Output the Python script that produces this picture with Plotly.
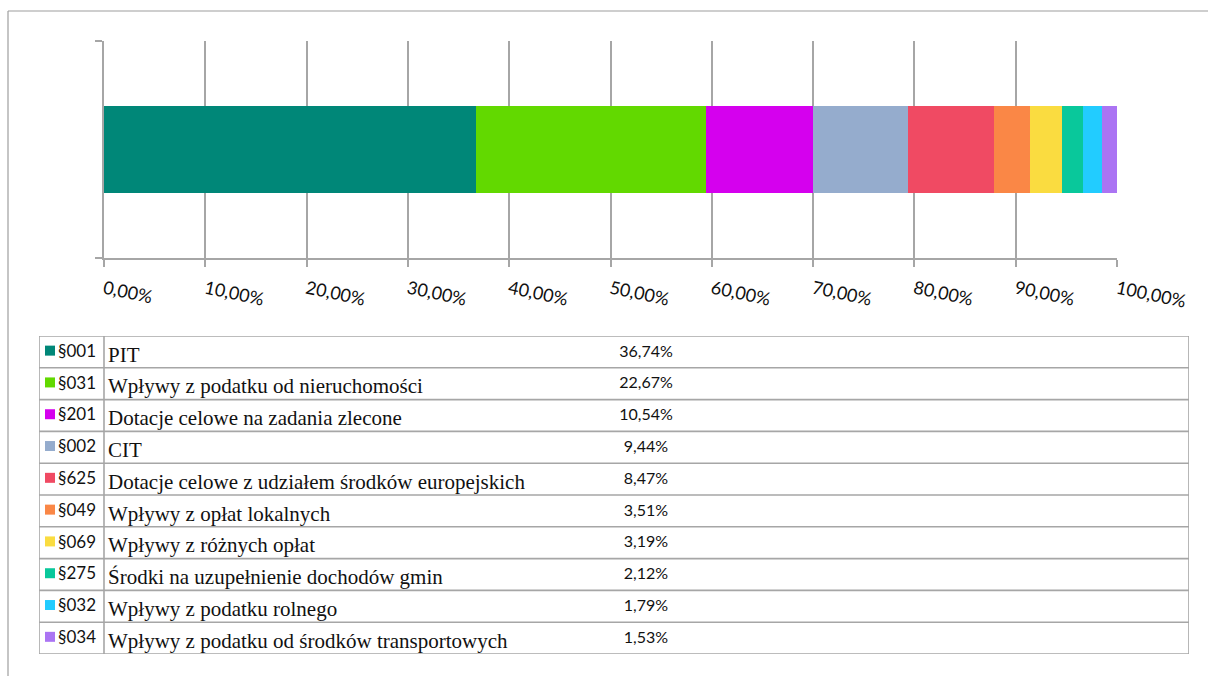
import plotly.graph_objects as go

# ---------------- data ----------------
codes = ["§001", "§031", "§201", "§002", "§625", "§049", "§069", "§275", "§032", "§034"]
names = [
    "PIT",
    "Wpływy z podatku od nieruchomości",
    "Dotacje celowe na zadania zlecone",
    "CIT",
    "Dotacje celowe z udziałem środków europejskich",
    "Wpływy z opłat lokalnych",
    "Wpływy z różnych opłat",
    "Środki na uzupełnienie dochodów gmin",
    "Wpływy z podatku rolnego",
    "Wpływy z podatku od środków transportowych",
]
shares = [36.74, 22.67, 10.54, 9.44, 8.47, 3.51, 3.19, 2.12, 1.79, 1.53]
colors = ["#008778", "#62D900", "#D500EE", "#95ACCD", "#F04A63",
          "#FA8746", "#FADC40", "#09C89B", "#22CCFF", "#AB74F3"]
tick_values = [0, 0.1, 0.2, 0.3, 0.4, 0.5, 0.6, 0.7, 0.8, 0.9, 1.0]

# ---------------- layout helpers ----------------
W, H = 1208, 676
def px(x):
    return x / W
def py(y):
    return 1 - y / H

GRID = "#A6A6A6"
SANS = "Lato, 'Open Sans', sans-serif"
SERIF = "'Liberation Serif', 'Times New Roman', serif"

fig = go.Figure()

# stacked bar
for c, n, s, col in zip(codes, names, shares, colors):
    fig.add_trace(go.Bar(
        x=[s / 100], y=[0], orientation="h", width=0.405,
        marker=dict(color=col, line=dict(width=0)),
        name=c, showlegend=False, hoverinfo="skip",
        xaxis="x", yaxis="y",
    ))

# ---------------- data table (second axis pair) ----------------
TABLE_W = 1150
KEY_X = 11
CODE_X = 19
DIV_X = 65
DESC_X = 69
PCT_X = 607
rows = list(range(len(codes)))
row_mid = [r + 0.5 for r in rows]

fig.add_trace(go.Scatter(
    x=[KEY_X] * len(codes), y=[m - 0.04 for m in row_mid], mode="markers",
    marker=dict(symbol="square", size=10, color=colors, line=dict(width=0)),
    showlegend=False, hoverinfo="skip", xaxis="x2", yaxis="y2",
))
fig.add_trace(go.Scatter(
    x=[CODE_X] * len(codes), y=[m + 0.02 for m in row_mid], mode="text",
    text=codes, textposition="middle right",
    textfont=dict(family=SANS, size=17, color="#111111"),
    showlegend=False, hoverinfo="skip", xaxis="x2", yaxis="y2",
))
fig.add_trace(go.Scatter(
    x=[DESC_X] * len(codes), y=[m + 0.14 for m in row_mid], mode="text",
    text=names, textposition="middle right",
    textfont=dict(family=SERIF, size=21, color="#111111"),
    showlegend=False, hoverinfo="skip", xaxis="x2", yaxis="y2",
))
fig.add_trace(go.Scatter(
    x=[PCT_X] * len(codes), y=[m + 0.02 for m in row_mid], mode="text",
    text=[f"{s:.2f}".replace(".", ",") + "%" for s in shares],
    textposition="middle center",
    textfont=dict(family=SANS, size=16, color="#111111"),
    showlegend=False, hoverinfo="skip", xaxis="x2", yaxis="y2",
))

shapes = []
for r in range(len(codes) + 1):
    shapes.append(dict(type="line", xref="x2", yref="y2", x0=0, x1=TABLE_W, y0=r, y1=r,
                       line=dict(color=GRID, width=1.6)))
for xv in [0, DIV_X, TABLE_W]:
    shapes.append(dict(type="line", xref="x2", yref="y2", x0=xv, x1=xv, y0=0, y1=len(codes),
                       line=dict(color=GRID, width=1.6)))
# outer chart frame
shapes.append(dict(type="line", xref="paper", yref="paper", x0=px(8), x1=px(8), y0=0, y1=py(11),
                   line=dict(color="#9E9E9E", width=1.2)))
shapes.append(dict(type="line", xref="paper", yref="paper", x0=px(8), x1=1, y0=py(11), y1=py(11),
                   line=dict(color="#9E9E9E", width=1.2)))

fig.update_layout(
    width=W, height=H, autosize=False,
    margin=dict(l=0, r=0, t=0, b=0, autoexpand=False),
    paper_bgcolor="white", plot_bgcolor="white",
    barmode="stack", separators=", ",
    shapes=shapes,
    xaxis=dict(
        domain=[px(104), px(1117)], range=[0, 1], anchor="y", automargin=False,
        tickvals=tick_values, tickformat=".2%", tickangle=12, ticklabelstandoff=5,
        ticks="outside", ticklen=7, tickcolor=GRID, tickwidth=1.5,
        showgrid=True, gridcolor=GRID, gridwidth=1.5,
        showline=True, linecolor=GRID, linewidth=1.5,
        zeroline=False,
        tickfont=dict(family=SANS, size=18, color="#111111"),
        fixedrange=True,
    ),
    yaxis=dict(
        domain=[py(258), py(41)], range=[-0.5, 0.5], anchor="x", automargin=False,
        tickvals=[-0.5, 0.5], ticks="outside", ticklen=7, tickcolor=GRID, tickwidth=1.5,
        showticklabels=False, showgrid=False, zeroline=False,
        showline=True, linecolor=GRID, linewidth=1.5, fixedrange=True,
    ),
    xaxis2=dict(domain=[px(39), px(1189)], range=[0, TABLE_W], anchor="y2", visible=False,
                fixedrange=True, automargin=False),
    yaxis2=dict(domain=[py(654), py(336)], range=[len(codes), 0], anchor="x2", visible=False,
                fixedrange=True, automargin=False),
)

fig.write_html("out.html", config={"displayModeBar": False},
               post_script="document.body.style.margin='0px';document.body.style.overflow='hidden';")
